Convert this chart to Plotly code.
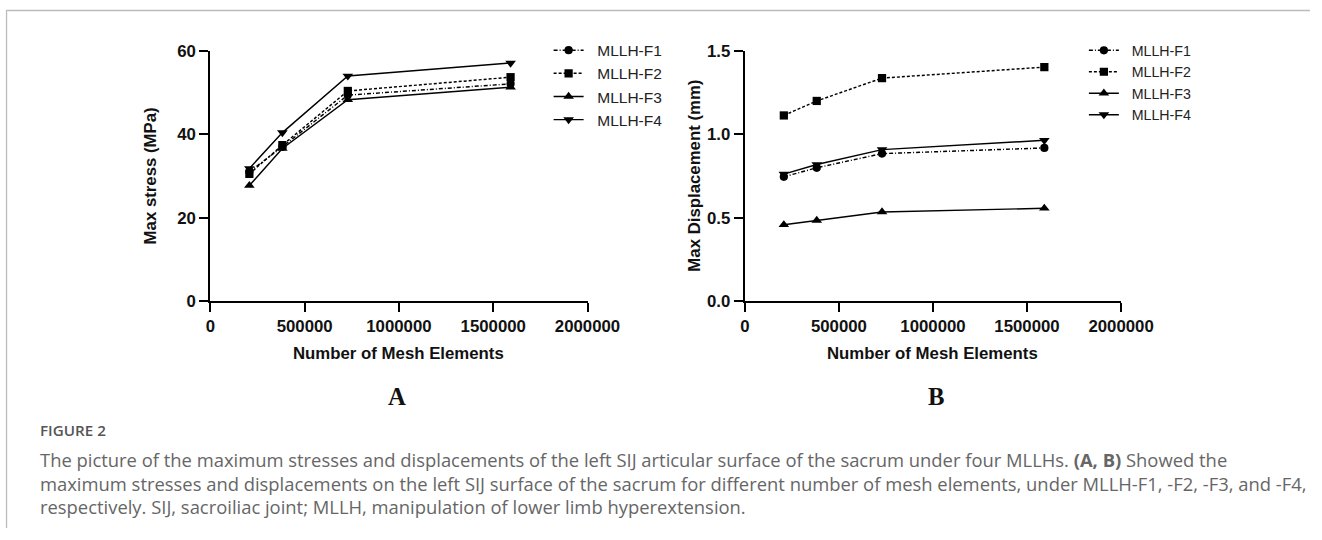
import plotly.graph_objects as go

# ---------------- data ----------------
mesh_elements = [207000, 382000, 729000, 1592000]
series_names = ["MLLH-F1", "MLLH-F2", "MLLH-F3", "MLLH-F4"]

stress_F1 = [31.0, 37.0, 49.4, 52.1]
stress_F2 = [30.5, 37.4, 50.4, 53.7]
stress_F3 = [27.7, 36.6, 48.3, 51.3]
stress_F4 = [31.8, 40.4, 54.0, 57.1]

disp_F1 = [0.745, 0.799, 0.884, 0.918]
disp_F2 = [1.113, 1.200, 1.337, 1.403]
disp_F3 = [0.457, 0.483, 0.534, 0.556]
disp_F4 = [0.761, 0.819, 0.908, 0.964]

x_ticks = [0, 500000, 1000000, 1500000, 2000000]
stress_ticks = [0, 20, 40, 60]
disp_ticks = [0.0, 0.5, 1.0, 1.5]

caption_title = "FIGURE 2"
caption_lines = [
    "The picture of the maximum stresses and displacements of the left SIJ articular surface of the sacrum under four MLLHs. <b>(A, B)</b> Showed the",
    "maximum stresses and displacements on the left SIJ surface of the sacrum for different number of mesh elements, under MLLH-F1, -F2, -F3, and -F4,",
    "respectively. SIJ, sacroiliac joint; MLLH, manipulation of lower limb hyperextension.",
]

# ---------------- layout helpers ----------------
# Photographed page = (figure + 8px body margin) scaled by S; positions below are
# given in photographed pixels and converted to figure pixels.
S = 540 / 556
OFF = 8
W, H = 1343, 538

def dpx(p):
    return p / S - OFF

def px_x(p):
    return dpx(p) / W

def px_y(p):
    return 1 - dpx(p) / H

def fs(p):
    return p / S

styles = [
    dict(dash="4px,2px,1px,2px", symbol="circle", size=8),
    dict(dash="3px,2px", symbol="square", size=8),
    dict(dash="solid", symbol="triangle-up", size=9),
    dict(dash="solid", symbol="triangle-down", size=9),
]

fig = go.Figure()

stress_all = [stress_F1, stress_F2, stress_F3, stress_F4]
disp_all = [disp_F1, disp_F2, disp_F3, disp_F4]
pad = "\u00a0\u00a0"

for name, vals, st in zip(series_names, stress_all, styles):
    fig.add_trace(go.Scatter(
        x=mesh_elements, y=vals, name=pad + name, mode="lines+markers",
        line=dict(color="black", width=1.45, dash=st["dash"]),
        marker=dict(color="black", symbol=st["symbol"], size=fs(st["size"])),
        xaxis="x", yaxis="y", legend="legend", cliponaxis=False,
    ))
for name, vals, st in zip(series_names, disp_all, styles):
    fig.add_trace(go.Scatter(
        x=mesh_elements, y=vals, name=pad + name, mode="lines+markers",
        line=dict(color="black", width=1.45, dash=st["dash"]),
        marker=dict(color="black", symbol=st["symbol"], size=fs(st["size"])),
        xaxis="x2", yaxis="y2", legend="legend2", cliponaxis=False,
    ))

tickfont = dict(family="Liberation Sans, Arial, sans-serif", size=16.8, color="#111", weight="bold")
axis_common = dict(
    showline=True, linecolor="black", linewidth=2.3, mirror=False,
    ticks="outside", ticklen=9, tickwidth=2, tickcolor="black",
    showgrid=False, zeroline=False, tickfont=tickfont, fixedrange=True,
)

top_px, bot_px = 50, 301.7
legend_font = dict(family="Liberation Sans, Arial, sans-serif", size=15.5, color="#222")
legend2_font = dict(family="Liberation Sans, Arial, sans-serif", size=14.2, color="#222")
fig.update_layout(
    width=W, height=H,
    margin=dict(l=0, r=0, t=0, b=0),
    paper_bgcolor="white", plot_bgcolor="white",
    showlegend=True,
    xaxis=dict(domain=[px_x(213), px_x(590)], range=[0, 2000000], tickvals=x_ticks,
               ticktext=[str(v) for v in x_ticks], anchor="y", **axis_common),
    yaxis=dict(domain=[px_y(bot_px), px_y(top_px)], range=[0, 60], tickvals=stress_ticks,
               ticktext=[str(v) for v in stress_ticks], anchor="x", **axis_common),
    xaxis2=dict(domain=[px_x(747.3), px_x(1123.3)], range=[0, 2000000], tickvals=x_ticks,
                ticktext=[str(v) for v in x_ticks], anchor="y2", **axis_common),
    yaxis2=dict(domain=[px_y(bot_px), px_y(top_px)], range=[0, 1.5], tickvals=disp_ticks,
                ticktext=[f"{v:.1f}" for v in disp_ticks], anchor="x2", **axis_common),
    legend=dict(x=(dpx(555) - 4) / W, y=1 - 25.5 / H, xanchor="left", yanchor="top",
                font=legend_font, bgcolor="rgba(0,0,0,0)", borderwidth=0, itemwidth=30),
    legend2=dict(x=(dpx(1090) - 4) / W, y=1 - 26.5 / H, xanchor="left", yanchor="top",
                 font=legend2_font, bgcolor="rgba(0,0,0,0)", borderwidth=0, itemwidth=30),
)

title_font = dict(family="Liberation Sans, Arial, sans-serif", size=16.8, color="#111", weight="bold")
serif_font = dict(family="Liberation Serif, Times New Roman, serif", size=fs(24), color="#111")
annotations = [
    dict(text="Number of Mesh Elements", x=px_x(401.5), y=px_y(355), xref="paper", yref="paper",
         xanchor="center", yanchor="middle", showarrow=False, font=title_font),
    dict(text="Number of Mesh Elements", x=px_x(935.3), y=px_y(355), xref="paper", yref="paper",
         xanchor="center", yanchor="middle", showarrow=False, font=title_font),
    dict(text="Max stress (MPa)", x=px_x(153), y=px_y(176), xref="paper", yref="paper",
         xanchor="center", yanchor="middle", showarrow=False, textangle=-90, font=title_font),
    dict(text="Max Displacement (mm)", x=px_x(697), y=px_y(176), xref="paper", yref="paper",
         xanchor="center", yanchor="middle", showarrow=False, textangle=-90, font=title_font),
    dict(text="<b>A</b>", x=px_x(400), y=px_y(397.5), xref="paper", yref="paper",
         xanchor="center", yanchor="middle", showarrow=False, font=serif_font),
    dict(text="<b>B</b>", x=px_x(938), y=px_y(397.5), xref="paper", yref="paper",
         xanchor="center", yanchor="middle", showarrow=False, font=serif_font),
    dict(text=caption_title, x=px_x(41), y=px_y(432), xref="paper", yref="paper",
         xanchor="left", yanchor="middle", showarrow=False,
         font=dict(family="Open Sans, sans-serif", size=15.2, color="#555", weight=600)),
]
for i, line in enumerate(caption_lines):
    annotations.append(dict(text=line, x=px_x(41), y=px_y(461 + 24 * i), xref="paper", yref="paper",
                            xanchor="left", yanchor="middle", showarrow=False, align="left",
                            font=dict(family="Open Sans, sans-serif", size=18.4, color="#666")))
fig.update_layout(annotations=annotations)

fig.update_layout(shapes=[
    dict(type="line", xref="paper", yref="paper", x0=px_x(9), x1=1, y0=px_y(9.3), y1=px_y(9.3),
         line=dict(color="#bbbbbb", width=1.3)),
    dict(type="line", xref="paper", yref="paper", x0=px_x(9.3), x1=px_x(9.3), y0=px_y(9), y1=0,
         line=dict(color="#bbbbbb", width=1.3)),
])

fig.write_html("out.html")
